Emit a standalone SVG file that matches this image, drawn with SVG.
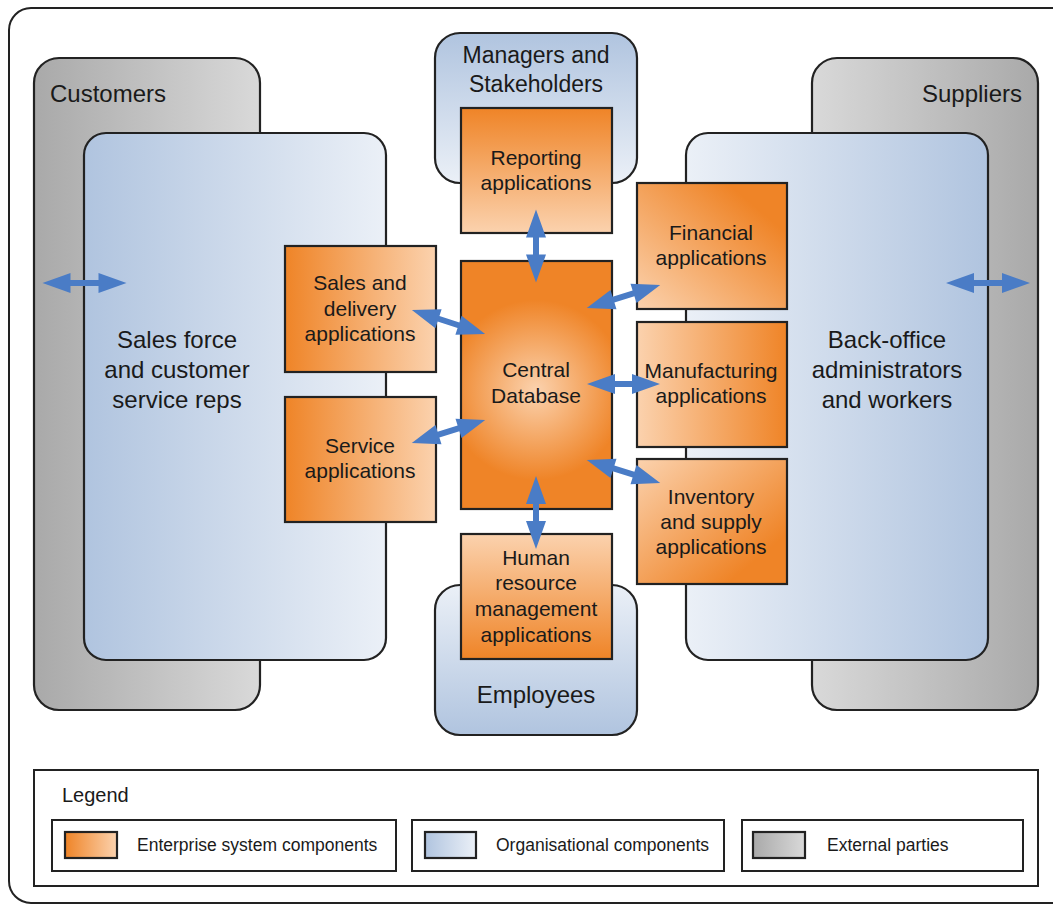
<svg xmlns="http://www.w3.org/2000/svg" width="1053" height="905" viewBox="0 0 1053 905">
<defs>
<linearGradient id="gL2R" x1="0" y1="0" x2="1" y2="0"><stop offset="0" stop-color="#a9a9a9"/><stop offset="1" stop-color="#d9d9d9"/></linearGradient>
<linearGradient id="gR2L" x1="1" y1="0" x2="0" y2="0"><stop offset="0" stop-color="#a9a9a9"/><stop offset="1" stop-color="#d9d9d9"/></linearGradient>
<linearGradient id="bL2R" x1="0" y1="0" x2="1" y2="0"><stop offset="0" stop-color="#b0c4df"/><stop offset="1" stop-color="#ebf0f7"/></linearGradient>
<linearGradient id="bR2L" x1="1" y1="0" x2="0" y2="0"><stop offset="0" stop-color="#b0c4df"/><stop offset="1" stop-color="#ebf0f7"/></linearGradient>
<linearGradient id="bT2B" x1="0" y1="0" x2="0" y2="1"><stop offset="0" stop-color="#b0c4df"/><stop offset="1" stop-color="#ebf0f7"/></linearGradient>
<linearGradient id="bB2T" x1="0" y1="1" x2="0" y2="0"><stop offset="0" stop-color="#b0c4df"/><stop offset="1" stop-color="#ebf0f7"/></linearGradient>
<linearGradient id="oL2R" x1="0" y1="0" x2="1" y2="0"><stop offset="0" stop-color="#ef8427"/><stop offset="1" stop-color="#fbd2ae"/></linearGradient>
<linearGradient id="oR2L" x1="1" y1="0" x2="0" y2="0"><stop offset="0" stop-color="#ef8427"/><stop offset="1" stop-color="#fbd2ae"/></linearGradient>
<linearGradient id="oT2B" x1="0" y1="0" x2="0" y2="1"><stop offset="0" stop-color="#ef8427"/><stop offset="1" stop-color="#fbd2ae"/></linearGradient>
<linearGradient id="oB2T" x1="0" y1="1" x2="0" y2="0"><stop offset="0" stop-color="#ef8427"/><stop offset="1" stop-color="#fbd2ae"/></linearGradient>
<linearGradient id="oFin" x1="1" y1="0" x2="0" y2="1"><stop offset="0.2" stop-color="#ef8427"/><stop offset="1" stop-color="#fbd2ae"/></linearGradient>
<linearGradient id="oInv" x1="1" y1="1" x2="0" y2="0"><stop offset="0.2" stop-color="#ef8427"/><stop offset="1" stop-color="#fbd2ae"/></linearGradient>
<radialGradient id="oRad" gradientUnits="userSpaceOnUse" cx="536" cy="390" r="120"><stop offset="0" stop-color="#fbd2ae"/><stop offset="0.75" stop-color="#ef8427"/></radialGradient>
<style>
.frame{fill:#fff;stroke:#222;stroke-width:2}
.bx{stroke:#222;stroke-width:2.2}
.t{font-family:"Liberation Sans",Arial,sans-serif;fill:#1a1a1a;text-anchor:middle}
.big{font-size:24px}
.mid{font-size:21px}
.lg{font-family:"Liberation Sans",Arial,sans-serif;fill:#1a1a1a;font-size:17.5px}
.arr{fill:#4a7cc6}
</style>
<path id="a84" d="M-42,0 L-14,-10 L-14,-3 L14,-3 L14,-10 L42,0 L14,10 L14,3 L-14,3 L-14,10 Z"/>
<path id="a77" d="M-38.5,0 L-10.5,-10 L-10.5,-3 L10.5,-3 L10.5,-10 L38.5,0 L10.5,10 L10.5,3 L-10.5,3 L-10.5,10 Z"/>
<path id="a73" d="M-36.5,0 L-8.5,-10 L-8.5,-3 L8.5,-3 L8.5,-10 L36.5,0 L8.5,10 L8.5,3 L-8.5,3 L-8.5,10 Z"/>
</defs>
<rect x="0" y="0" width="1053" height="905" fill="#fff"/>
<rect class="frame" x="9" y="8" width="1065" height="895" rx="22"/>

<g id="customers"><rect class="bx" x="34" y="58" width="226" height="652" rx="25" fill="url(#gL2R)"/><text class="t big" x="50" y="102" style="text-anchor:start">Customers</text></g>
<g id="sales-force"><rect class="bx" x="84" y="133" width="302" height="527" rx="22" fill="url(#bL2R)"/><text class="t big" x="177" y="348">Sales force</text><text class="t big" x="177" y="378">and customer</text><text class="t big" x="177" y="408">service reps</text></g>
<g id="suppliers"><rect class="bx" x="812" y="58" width="226" height="652" rx="25" fill="url(#gR2L)"/><text class="t big" x="1022" y="102" style="text-anchor:end">Suppliers</text></g>
<g id="back-office"><rect class="bx" x="686" y="133" width="302" height="527" rx="22" fill="url(#bR2L)"/><text class="t big" x="887" y="348">Back-office</text><text class="t big" x="887" y="378">administrators</text><text class="t big" x="887" y="408">and workers</text></g>
<g id="managers"><rect class="bx" x="435" y="33" width="202" height="150" rx="25" fill="url(#bT2B)"/><text class="t" style="font-size:23px" x="536" y="63">Managers and</text><text class="t" style="font-size:23px" x="536" y="92">Stakeholders</text></g>
<g id="employees"><rect class="bx" x="435" y="585" width="202" height="150" rx="25" fill="url(#bB2T)"/><text class="t big" x="536" y="703">Employees</text></g>

<g id="reporting"><rect class="bx" x="461" y="108" width="151" height="125" fill="url(#oT2B)"/><text class="t mid" x="536" y="165">Reporting</text><text class="t mid" x="536" y="190">applications</text></g>
<g id="central-db"><rect class="bx" x="461" y="261" width="151" height="248" fill="url(#oRad)"/><text class="t mid" x="536" y="377">Central</text><text class="t mid" x="536" y="403">Database</text></g>
<g id="hr"><rect class="bx" x="461" y="534" width="151" height="125" fill="url(#oB2T)"/><text class="t mid" x="536" y="565">Human</text><text class="t mid" x="536" y="590">resource</text><text class="t mid" x="536" y="616">management</text><text class="t mid" x="536" y="642">applications</text></g>
<g id="sales-delivery"><rect class="bx" x="285" y="246" width="151" height="126" fill="url(#oL2R)"/><text class="t mid" x="360" y="290">Sales and</text><text class="t mid" x="360" y="316">delivery</text><text class="t mid" x="360" y="341">applications</text></g>
<g id="service"><rect class="bx" x="285" y="397" width="151" height="125" fill="url(#oL2R)"/><text class="t mid" x="360" y="453">Service</text><text class="t mid" x="360" y="478">applications</text></g>
<g id="financial"><rect class="bx" x="637" y="183" width="150" height="126" fill="url(#oFin)"/><text class="t mid" x="711" y="240">Financial</text><text class="t mid" x="711" y="265">applications</text></g>
<g id="manufacturing"><rect class="bx" x="637" y="322" width="150" height="125" fill="url(#oR2L)"/><text class="t mid" x="711" y="378">Manufacturing</text><text class="t mid" x="711" y="403">applications</text></g>
<g id="inventory"><rect class="bx" x="637" y="459" width="150" height="125" fill="url(#oInv)"/><text class="t mid" x="711" y="504">Inventory</text><text class="t mid" x="711" y="529">and supply</text><text class="t mid" x="711" y="554">applications</text></g>

<g id="connectors" class="arr">
<use href="#a84" transform="translate(84.5,283)"/>
<use href="#a84" transform="translate(988,283)"/>
<use href="#a73" transform="translate(536,246) rotate(90)"/>
<use href="#a73" transform="translate(536,512.5) rotate(90)"/>
<use href="#a77" transform="translate(448.5,322) rotate(18)"/>
<use href="#a77" transform="translate(448.5,431.5) rotate(-17.5)"/>
<use href="#a77" transform="translate(623.5,296.5) rotate(-17.5)"/>
<use href="#a73" transform="translate(623.5,384)"/>
<use href="#a77" transform="translate(623.5,471.5) rotate(17.5)"/>
</g>

<g id="legend">
<rect class="frame" x="34" y="770" width="1004" height="116"/>
<text class="lg" x="62" y="802" style="font-size:20px">Legend</text>
<rect class="frame" x="52" y="820" width="344" height="51"/>
<rect class="bx" x="65" y="832" width="52" height="26" fill="url(#oL2R)"/>
<text class="lg" x="137" y="851">Enterprise system components</text>
<rect class="frame" x="412" y="820" width="312" height="51"/>
<rect class="bx" x="425" y="832" width="51" height="26" fill="url(#bL2R)"/>
<text class="lg" x="496" y="851">Organisational components</text>
<rect class="frame" x="742" y="820" width="281" height="51"/>
<rect class="bx" x="753" y="832" width="52" height="26" fill="url(#gL2R)"/>
<text class="lg" x="827" y="851">External parties</text>
</g>
</svg>
